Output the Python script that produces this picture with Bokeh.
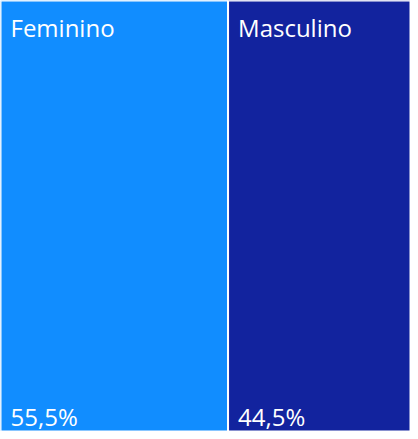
from bokeh.plotting import figure
from bokeh.models import ColumnDataSource, Range1d
from bokeh.core.properties import value
from bokeh.embed import file_html
from bokeh.resources import INLINE

categories = ["Feminino", "Masculino"]
shares = [55.5, 44.5]
labels = ["55,5%", "44,5%"]
colors = ["#118DFF", "#12239E"]

left = []
right = []
acc = 0.0
for s in shares:
    left.append(acc)
    acc += s
    right.append(acc)

src = ColumnDataSource(dict(left=left, right=right, bottom=[0, 0], top=[1, 1],
                            cat=categories, lab=labels, color=colors))

p = figure(width=410, height=431, output_backend="svg", toolbar_location=None,
           x_range=Range1d(0, acc), y_range=Range1d(0, 1), min_border=0)
p.axis.visible = False
p.grid.visible = False
p.outline_line_color = None
p.background_fill_color = "white"
p.border_fill_color = "white"

p.quad(left="left", right="right", bottom="bottom", top="top", source=src,
       fill_color="color", line_color="white", line_width=2)

p.text(x="left", y="top", text="cat", source=src, x_offset=10, y_offset=10,
       text_baseline="top", text_align="left", text_color="white",
       text_font=value("Open Sans"), text_font_size="24px")
p.text(x="left", y="bottom", text="lab", source=src, x_offset=10, y_offset=1,
       text_baseline="bottom", text_align="left", text_color="white",
       text_font=value("Open Sans"), text_font_size="24px")

open("out.html", "w").write(file_html(p, INLINE))
